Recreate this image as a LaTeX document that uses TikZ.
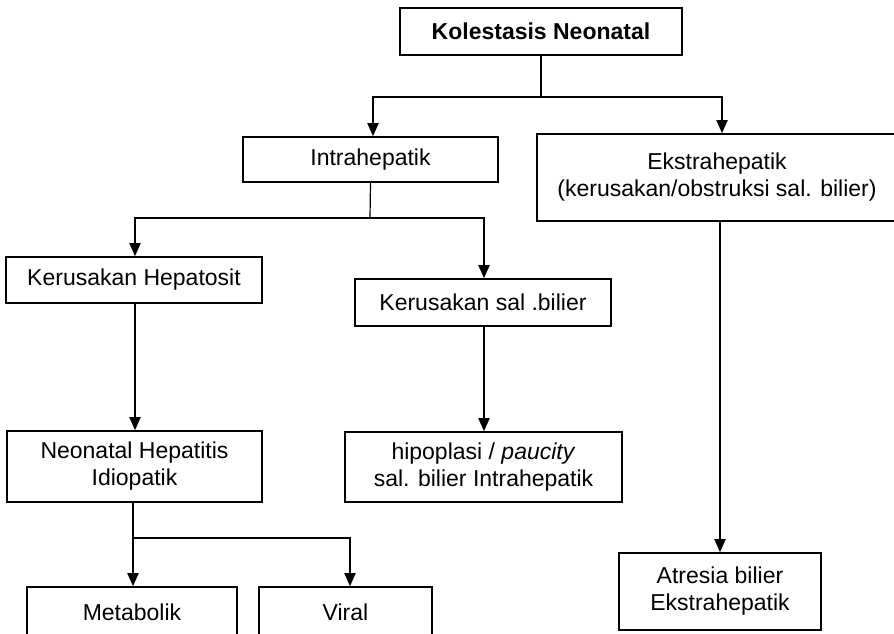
\documentclass[tikz,border=0pt]{standalone}
\usepackage{fontspec}
\setmainfont{Liberation Sans}
\usepackage{tikz}
\usetikzlibrary{arrows.meta}

\begin{document}
\begin{tikzpicture}[x=1pt,y=-1pt,
  box/.style={draw, line width=1.6pt, align=center, inner sep=0pt,
    font=\fontsize{23}{27}\selectfont},
  link/.style={line width=1.2pt},
  arr/.style={line width=1.8pt, -{Triangle[length=13pt,width=11pt]}}]

% Fix the page size
\useasboundingbox (0,0) rectangle (894,633);

% Top level
\node[box, minimum width=282pt, minimum height=47pt] (kolestasis) at (541,31.5) {\textbf{Kolestasis Neonatal}};

% Second level
\node[box, minimum width=255pt, minimum height=45pt] (intra) at (370.5,159.5) {Intrahepatik};
\node[box, minimum width=360pt, minimum height=87pt] (ekstra) at (717,177.5) {Ekstrahepatik\\(kerusakan/obstruksi sal. bilier)};

% Third level
\node[box, minimum width=256pt, minimum height=46pt] (hepatosit) at (134,280) {Kerusakan Hepatosit};
\node[box, minimum width=256pt, minimum height=47pt] (salbilier) at (483,302.5) {Kerusakan sal .bilier};

% Fourth level
\node[box, minimum width=255pt, minimum height=71pt] (neohep) at (134.5,466.5) {Neonatal Hepatitis\\Idiopatik};
\node[box, minimum width=277pt, minimum height=70pt] (hipoplasi) at (483.5,467) {hipoplasi / \textit{paucity}\\sal. bilier Intrahepatik};
\node[box, minimum width=202pt, minimum height=77pt] (atresia) at (720,591.5) {Atresia bilier\\Ekstrahepatik};

% Bottom level
\node[box, minimum width=210pt, minimum height=50pt] (metabolik) at (132,612) {Metabolik};
\node[box, minimum width=173pt, minimum height=50pt] (viral) at (345.5,612) {Viral};

% Junction points
\coordinate (j1) at (541,97);
\coordinate (j2) at (370,218);
\coordinate (j3) at (133,538);

% Connectors
\draw[link] (kolestasis.south) -- (j1);
\draw[arr] (j1) -| ([xshift=2.5pt]intra.north);
\draw[arr] (j1) -| ([xshift=5pt]ekstra.north);

\draw[link] (intra.south) -- (j2);
\draw[arr] (j2) -| ([xshift=1pt]hepatosit.north);
\draw[arr] (j2) -| ([xshift=1pt]salbilier.north);

\draw[arr] ([xshift=1pt]hepatosit.south) -- ([xshift=0.5pt]neohep.north);
\draw[arr] ([xshift=1pt]salbilier.south) -- ([xshift=0.5pt]hipoplasi.north);
\draw[arr] (ekstra.south -| atresia.north) -- (atresia.north);

\draw[link] ([xshift=-1.5pt]neohep.south) -- (j3);
\draw[arr] (j3) -- ([xshift=1pt]metabolik.north);
\draw[arr] (j3) -| ([xshift=4.5pt]viral.north);

\end{tikzpicture}
\end{document}
